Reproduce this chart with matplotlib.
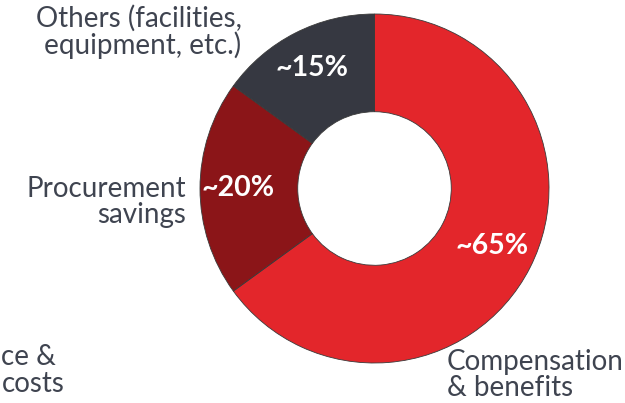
import matplotlib
matplotlib.use("Agg")
import matplotlib.pyplot as plt

categories = ["Compensation\n& benefits", "Procurement\nsavings", "Others (facilities,\n equipment, etc.)"]
values = [65, 20, 15]
pct_labels = ["~65%", "~20%", "~15%"]
colors = ["#E3262B", "#8B1518", "#363841"]

W, H = 625, 403
fig = plt.figure(figsize=(W / 100, H / 100), dpi=100)
cx, cy, R = 374.5, 188.5, 174.5
ax = fig.add_axes([(cx - R) / W, (H - cy - R) / H, 2 * R / W, 2 * R / H])
ax.axis("off")

wedges, _ = ax.pie(values, colors=colors, startangle=90, counterclock=False, radius=1,
                   wedgeprops=dict(width=0.56, edgecolor="#3a3a3a", linewidth=0.6))
ax.set_xlim(-1, 1)
ax.set_ylim(-1, 1)

def d(px, py):
    return (px - cx) / R, (cy - py) / R

font = "Lato"
tc = "#3F4450"
fs = 20
ls = 0.98

# percentage labels
for lab, (px, py) in zip(pct_labels, [(492, 246), (238, 188), (312, 68)]):
    x, y = d(px, py)
    ax.text(x, y, lab, color="white", fontsize=20.5, fontweight="bold", family=font,
            ha="center", va="center")

# category labels
x, y = d(447, 375)
ax.text(x, y, categories[0], ha="left", va="center", fontsize=fs, color=tc, family=font,
        linespacing=ls, clip_on=False)
x, y = d(186, 202)
ax.text(x, y, categories[1], ha="right", va="center", fontsize=fs, color=tc, family=font,
        linespacing=ls, multialignment="right", clip_on=False)
x, y = d(139, 32)
ax.text(x, y, categories[2], ha="center", va="center", fontsize=fs, color=tc, family=font,
        linespacing=ls, clip_on=False)

# partially visible label at left edge (kept fully inside the canvas)
x, y = d(1, 357)
ax.text(x, y, "ce &", ha="left", va="center", fontsize=fs, color=tc, family=font, clip_on=False)
x, y = d(2, 384)
ax.text(x, y, "costs", ha="left", va="center", fontsize=fs, color=tc, family=font, clip_on=False)

fig.savefig("out.png", dpi=100)
